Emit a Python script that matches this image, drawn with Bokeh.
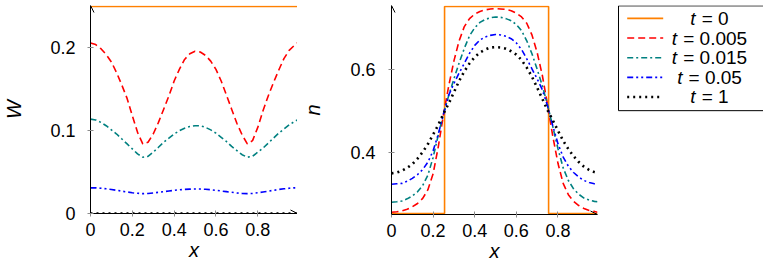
from bokeh.plotting import figure
from bokeh.layouts import row
from bokeh.models import Range1d, FixedTicker, Arrow, OpenHead
from bokeh.core.properties import value
from bokeh.embed import file_html
from bokeh.resources import INLINE

# ---------------- data ----------------
x_grid = [0.0, 0.025, 0.05, 0.075, 0.1, 0.125, 0.15, 0.175, 0.2, 0.225, 0.25,
          0.275, 0.3, 0.325, 0.35, 0.375, 0.4, 0.425, 0.45, 0.475, 0.5,
          0.525, 0.55, 0.575, 0.6, 0.625, 0.65, 0.675, 0.7, 0.725, 0.75,
          0.775, 0.8, 0.825, 0.85, 0.875, 0.9, 0.925, 0.95, 0.975, 0.99]

t_labels = ["0", "0.005", "0.015", "0.05", "1"]

# W(x) panel
W_flat_x = [0.0, 0.99]
W_t0 = [0.25, 0.25]
W_t1 = [0.0, 0.0]
W_t0005 = [0.206, 0.204, 0.199, 0.192, 0.183, 0.170, 0.155, 0.139, 0.118, 0.098, 0.084,
           0.086, 0.096, 0.110, 0.126, 0.142, 0.160, 0.174, 0.186, 0.193, 0.196,
           0.195, 0.191, 0.184, 0.174, 0.160, 0.143, 0.126, 0.109, 0.095, 0.084,
           0.088, 0.104, 0.124, 0.142, 0.158, 0.173, 0.187, 0.197, 0.203, 0.206]
W_t0015 = [0.114, 0.113, 0.110, 0.106, 0.101, 0.096, 0.090, 0.084, 0.078, 0.072, 0.068,
           0.069, 0.074, 0.080, 0.086, 0.091, 0.096, 0.100, 0.103, 0.105, 0.106,
           0.106, 0.104, 0.101, 0.097, 0.092, 0.087, 0.081, 0.076, 0.071, 0.068,
           0.069, 0.074, 0.079, 0.085, 0.091, 0.097, 0.102, 0.107, 0.111, 0.113]
W_t005 = [0.031, 0.031, 0.0305, 0.0298, 0.029, 0.028, 0.027, 0.026, 0.025, 0.0244, 0.024,
          0.0242, 0.0248, 0.0256, 0.0264, 0.0272, 0.0280, 0.0286, 0.0291, 0.0294, 0.0296,
          0.0295, 0.0292, 0.0287, 0.0280, 0.0272, 0.0264, 0.0256, 0.0248, 0.0242, 0.024,
          0.0243, 0.025, 0.026, 0.027, 0.028, 0.029, 0.0298, 0.0305, 0.031, 0.031]

# n(x) panel
n0_x = [0.0, 0.255, 0.255, 0.755, 0.755, 0.99]
n_t0 = [0.255, 0.255, 0.75, 0.75, 0.255, 0.255]
n_t0005 = [0.258, 0.259, 0.261, 0.265, 0.271, 0.279, 0.291, 0.312, 0.350, 0.415, 0.492,
           0.560, 0.620, 0.668, 0.702, 0.721, 0.732, 0.738, 0.742, 0.744, 0.745,
           0.744, 0.743, 0.740, 0.734, 0.725, 0.710, 0.682, 0.640, 0.585, 0.515,
           0.440, 0.375, 0.327, 0.300, 0.284, 0.274, 0.267, 0.262, 0.260, 0.258]
n_t0015 = [0.282, 0.283, 0.285, 0.290, 0.297, 0.307, 0.322, 0.347, 0.389, 0.443, 0.494,
           0.537, 0.577, 0.615, 0.650, 0.680, 0.699, 0.712, 0.719, 0.723, 0.725,
           0.724, 0.721, 0.716, 0.707, 0.692, 0.668, 0.637, 0.600, 0.560, 0.515,
           0.463, 0.410, 0.364, 0.334, 0.314, 0.301, 0.292, 0.287, 0.284, 0.283]
n_t005 = [0.325, 0.326, 0.327, 0.332, 0.339, 0.348, 0.360, 0.378, 0.405, 0.445, 0.493,
          0.538, 0.566, 0.591, 0.614, 0.638, 0.657, 0.670, 0.677, 0.681, 0.683,
          0.682, 0.679, 0.673, 0.663, 0.647, 0.625, 0.601, 0.577, 0.551, 0.512,
          0.465, 0.422, 0.390, 0.368, 0.353, 0.342, 0.334, 0.329, 0.326, 0.325]
n_t1 = [0.351, 0.353, 0.357, 0.364, 0.373, 0.386, 0.402, 0.421, 0.444, 0.467, 0.494,
        0.518, 0.545, 0.572, 0.595, 0.614, 0.629, 0.640, 0.647, 0.652, 0.653,
        0.652, 0.649, 0.643, 0.635, 0.622, 0.604, 0.582, 0.556, 0.529, 0.502,
        0.478, 0.453, 0.429, 0.409, 0.392, 0.378, 0.367, 0.359, 0.354, 0.352]

x_ticks = [0, 0.2, 0.4, 0.6, 0.8]
x_tick_labels = ["0", "0.2", "0.4", "0.6", "0.8"]
W_ticks = [0, 0.1, 0.2]
W_tick_labels = ["0", "0.1", "0.2"]
n_ticks = [0.4, 0.6]
n_tick_labels = ["0.4", "0.6"]

# axis limits (a hair of headroom so lines lying on the limits stay visible)
x_lim = (0.0, 0.99)
W_lim = (0.0, 0.2512)
n_lim = (0.2526, 0.7524)

# ---------------- styles ----------------
colors = ["#ff8000", "#ff0000", "#008080", "#0000ff", "#000000"]
dashes = ["solid", "7 4", "6 3 2 3", "6 3 2 3 2 3", "2 4"]
widths = [1.6, 1.6, 1.6, 1.6, 2.6]
FONT = "Liberation Sans"
TICK_FS = "18px"
LABEL_FS = "20px"


def style_axes(p, yticks, ylabels, ylabel, ytick_standoff, ylabel_standoff):
    for ax in (p.xaxis[0], p.yaxis[0]):
        ax.axis_line_color = "black"
        ax.axis_line_width = 1
        ax.major_tick_in = 3
        ax.major_tick_out = 3
        ax.major_tick_line_color = "#8c8c8c"
        ax.major_tick_line_width = 1
        ax.minor_tick_line_color = None
        ax.major_label_text_font = FONT
        ax.major_label_text_font_size = TICK_FS
        ax.major_label_text_color = "black"
        ax.axis_label_text_font = FONT
        ax.axis_label_text_font_size = LABEL_FS
        ax.axis_label_text_font_style = "italic"
        ax.axis_label_text_color = "black"
    p.xaxis.ticker = FixedTicker(ticks=x_ticks)
    p.xaxis.major_label_overrides = dict(zip(x_ticks, x_tick_labels))
    p.xaxis.major_label_standoff = 6
    p.xaxis.axis_label = "x"
    p.xaxis.axis_label_standoff = 0
    p.yaxis.ticker = FixedTicker(ticks=yticks)
    p.yaxis.major_label_overrides = dict(zip(yticks, ylabels))
    p.yaxis.major_label_standoff = ytick_standoff
    p.yaxis.axis_label = ylabel
    p.yaxis.axis_label_standoff = ylabel_standoff
    p.grid.visible = False
    p.outline_line_color = None
    p.background_fill_color = "white"
    p.border_fill_color = "white"


def add_arrows(p, xr, yr):
    p.add_layout(Arrow(end=OpenHead(size=7, line_width=1, line_color="black"),
                       x_start=xr[0], y_start=yr[0], x_end=xr[1], y_end=yr[0],
                       line_alpha=0))
    p.add_layout(Arrow(end=OpenHead(size=7, line_width=1, line_color="black"),
                       x_start=xr[0], y_start=yr[0], x_end=xr[0], y_end=yr[1],
                       line_alpha=0))


# ---------------- left panel: W ----------------
p1 = figure(output_backend="svg", toolbar_location=None,
            frame_width=207, frame_height=208,
            min_border_left=89, min_border_right=0, min_border_top=5, min_border_bottom=56,
            x_range=Range1d(*x_lim), y_range=Range1d(*W_lim))
style_axes(p1, W_ticks, W_tick_labels, "W", 12, 22)
W_series = [(W_flat_x, W_t0), (x_grid, W_t0005), (x_grid, W_t0015), (x_grid, W_t005), (W_flat_x, W_t1)]
for (xs, ys), c, d, w in zip(W_series, colors, dashes, widths):
    p1.line(xs, ys, line_color=c, line_dash=d, line_width=w, line_cap="butt")
add_arrows(p1, x_lim, W_lim)

# ---------------- right panel: n ----------------
p2 = figure(output_backend="svg", toolbar_location=None,
            frame_width=206, frame_height=209,
            min_border_left=94, min_border_right=11, min_border_top=5, min_border_bottom=55,
            x_range=Range1d(*x_lim), y_range=Range1d(*n_lim))
style_axes(p2, n_ticks, n_tick_labels, "n", 13, 23)
n_series = [(n0_x, n_t0), (x_grid, n_t0005), (x_grid, n_t0015), (x_grid, n_t005), (x_grid, n_t1)]
for (xs, ys), c, d, w in zip(n_series, colors, dashes, widths):
    p2.line(xs, ys, line_color=c, line_dash=d, line_width=w, line_cap="butt")
add_arrows(p2, x_lim, n_lim)

# ---------------- legend panel ----------------
LW, LH = 156, 269
p3 = figure(output_backend="svg", toolbar_location=None, width=LW, height=LH,
            min_border=0, x_axis_type=None, y_axis_type=None,
            x_range=Range1d(0, LW), y_range=Range1d(LH, 0))
p3.grid.visible = False
p3.outline_line_color = None
p3.quad(left=[10], right=[155], top=[0.5], bottom=[136], fill_color=None,
        line_color="black", line_width=1)

char_w = {".": 0.278, "=": 0.584, " ": 0.278}
fs = 19
row0, row_step = 16.7, 25.4
sample_x = [18.7, 54.7]
text_center = 101
for i, (lab, c, d, w) in enumerate(zip(t_labels, colors, dashes, widths)):
    yy = row0 + i * row_step
    p3.line(sample_x, [yy, yy], line_color=c, line_dash=d, line_width=w, line_cap="butt")
    rest = "= " + lab
    w_t = 0.278 * fs
    gap = 0.32 * fs
    w_rest = sum(char_w.get(ch, 0.556) for ch in rest) * fs
    x_t = text_center - (w_t + gap + w_rest) / 2
    p3.text(x=[x_t], y=[yy], text=["t"], text_font=value(FONT), text_font_style="italic",
            text_font_size=f"{fs}px", text_align="left", text_baseline="middle",
            text_color="black")
    p3.text(x=[x_t + w_t + gap], y=[yy], text=[rest], text_font=value(FONT),
            text_font_size=f"{fs}px", text_align="left", text_baseline="middle",
            text_color="black")

layout = row(p1, p2, p3)

open("out.html", "w").write(file_html(layout, INLINE))
